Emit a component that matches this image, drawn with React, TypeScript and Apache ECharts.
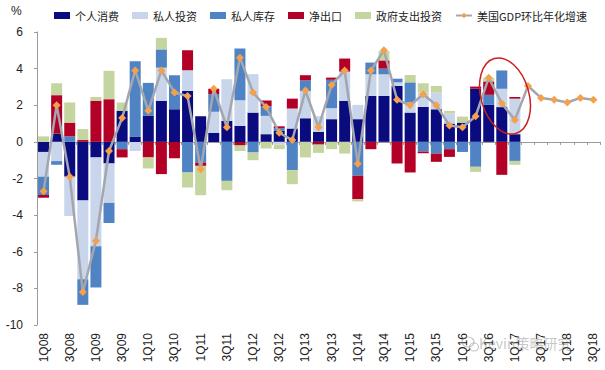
import React, { useEffect, useRef } from "react";
import * as echarts from "echarts";

const categories = [
  "1Q08","2Q08","3Q08","4Q08","1Q09","2Q09","3Q09","4Q09","1Q10","2Q10","3Q10","4Q10",
  "1Q11","2Q11","3Q11","4Q11","1Q12","2Q12","3Q12","4Q12","1Q13","2Q13","3Q13","4Q13",
  "1Q14","2Q14","3Q14","4Q14","1Q15","2Q15","3Q15","4Q15","1Q16","2Q16","3Q16","4Q16",
  "1Q17","2Q17","3Q17","4Q17","1Q18","2Q18","3Q18",
];

const pce = [-0.55, 0.45, -1.9, -3.2, -0.85, -1.18, 1.7, 0.3, 1.42, 2.24, 1.78, 2.78, 1.4, 0.5, 1.15, 0.87, 1.6, 0.42, 0.6, 0.73, 1.29, 0.55, 1.24, 2.24, 1.24, 2.51, 2.51, 3.05, 1.6, 1.91, 1.78, 1.0, 1.05, 2.91, 2.02, 1.9, 0.42];
const privInv = [-1.35, -1.05, -2.15, -4.3, -4.85, -2.15, 0, -0.5, 0, 1.81, 0, 1.13, 0, 1.15, 2.27, 1.4, 2.1, 1.0, -0.15, 1.09, 1.49, 0.85, 0.6, 1.6, 0.78, 1.18, 1.18, 0.2, 0.55, 0.78, 0.91, 0.55, 0, 0, 0, 1.0, 1.94];
const inventory = [-1.0, -0.2, 0.3, -1.4, -2.25, -1.1, -0.4, 4.1, 1.8, 1.0, 1.86, -1.67, -1.13, 0.95, -2.13, 2.83, -0.58, 0.54, 0.15, -1.55, 0.58, 0, 1.55, 0, -1.85, 0.64, 0.31, 0.2, 1.1, -0.53, -0.64, -0.4, -0.55, -1.36, 0.55, 1.0, -1.04];
const netExports = [-0.15, 2.1, 0.75, 0.1, 2.25, 2.33, -0.45, 0, -0.85, -1.76, -0.9, 1.09, -0.18, 0.3, 0, -0.2, 0, 0.3, 0.1, 0.54, 0.28, -0.15, 0.12, 0.71, -1.28, -0.4, 0.45, -1.18, -1.67, -0.09, -0.45, -0.42, 0, 0.11, 0.73, -1.8, 0.09];
const government = [0.3, 0.65, 1.1, 0.6, 0.2, 1.55, 0.45, 0, -0.6, 0.63, 0, -0.82, -1.6, 0, -0.51, -0.3, -0.42, -0.36, -0.25, -0.76, -0.85, -0.45, -0.4, -0.64, -0.12, 0, 0.51, 0, 0.4, 0.51, 0.36, 0.14, 0.33, -0.28, 0.2, 0, -0.21];
const gdp = [-2.7, 2.0, -1.9, -8.2, -5.4, -0.5, 1.3, 3.9, 1.7, 3.9, 2.7, 2.5, -1.5, 2.9, 0.8, 4.6, 2.7, 1.9, 0.5, 0.1, 2.8, 0.8, 3.1, 3.9, -1.2, 3.9, 5.0, 2.3, 2.0, 2.6, 2.0, 0.9, 0.8, 1.4, 3.5, 2.1, 1.2, 3.05, 2.4, 2.3, 2.15, 2.4, 2.3];

const barNames = ["个人消费", "私人投资", "私人库存", "净出口", "政府支出投资"];
const barColors = ["#0b0b80", "#c9d5ea", "#5083c4", "#b30026", "#c4d59f"];
const barData = [pce, privInv, inventory, netExports, government];
const lineName = "美国GDP环比年化增速";

export default function App() {
  const ref = useRef<HTMLDivElement>(null);
  useEffect(() => {
    document.body.style.margin = "0";
    const chart = echarts.init(ref.current!, undefined, { renderer: "svg" });
    const latin = "'Liberation Sans', Arial, sans-serif";
    const cjk = "'Noto Sans CJK SC', 'Liberation Sans', sans-serif";
    const wm = "rgba(150,150,150,0.55)";
    chart.setOption({
      animation: false,
      backgroundColor: "#ffffff",
      grid: { left: 37, right: 5, top: 32, bottom: 45 },
      legend: {
        left: 49,
        top: 5,
        itemWidth: 16,
        itemHeight: 7,
        itemGap: 13,
        textStyle: { fontSize: 11, fontFamily: cjk, color: "#222" },
        data: [...barNames.map((n) => ({ name: n, icon: "rect" })), { name: lineName }],
      },
      xAxis: [
        {
          type: "category",
          data: categories,
          position: "bottom",
          axisLine: { show: false, onZero: false },
          axisTick: { show: false },
          axisLabel: {
            interval: 1,
            rotate: 90,
            margin: 8,
            fontSize: 12,
            fontFamily: latin,
            color: "#222",
          },
        },
        {
          type: "category",
          data: categories,
          position: "bottom",
          axisLine: { show: true, onZero: true, onZeroAxisIndex: 0, lineStyle: { color: "#9a9a9a", width: 1 } },
          axisTick: { show: true, interval: 0, length: 3, lineStyle: { color: "#9a9a9a" } },
          axisLabel: { show: false },
        },
      ],
      yAxis: {
        type: "value",
        min: -10,
        max: 6,
        interval: 2,
        splitLine: { show: false },
        axisLine: { show: true, lineStyle: { color: "#9a9a9a" } },
        axisTick: { show: true, length: 3, lineStyle: { color: "#9a9a9a" } },
        axisLabel: { fontSize: 12, fontFamily: latin, color: "#222", margin: 14 },
      },
      series: [
        ...barNames.map((n, k) => ({
          name: n,
          type: "bar",
          stack: "gdp",
          xAxisIndex: 0,
          barCategoryGap: "16%",
          itemStyle: { color: barColors[k] },
          data: barData[k],
        })),
        {
          name: lineName,
          type: "line",
          xAxisIndex: 0,
          z: 5,
          symbol: "diamond",
          symbolSize: 8,
          lineStyle: { color: "#a3a6ae", width: 2.5 },
          itemStyle: { color: "#f5a04a" },
          data: gdp,
        },
      ],
      graphic: [
        {
          type: "text",
          left: 11,
          top: 5,
          style: { text: "%", fontSize: 12, fontFamily: latin, fill: "#222" },
        },
        {
          type: "ellipse",
          x: 505,
          y: 96,
          rotation: 0.28,
          shape: { cx: 0, cy: 0, rx: 24, ry: 39 },
          style: { fill: "none", stroke: "#cc1f1f", lineWidth: 1.5 },
          z: 10,
        },
        {
          type: "ellipse",
          shape: { cx: 468, cy: 342, rx: 6, ry: 5 },
          style: { fill: "none", stroke: wm, lineWidth: 1.2 },
          z: 10,
        },
        {
          type: "ellipse",
          shape: { cx: 474, cy: 347, rx: 4.5, ry: 4 },
          style: { fill: "none", stroke: wm, lineWidth: 1.2 },
          z: 10,
        },
        {
          type: "text",
          left: 479,
          top: 336,
          style: {
            text: "Kevin策略研究",
            fontSize: 14,
            fontFamily: cjk,
            fill: wm,
          },
          z: 10,
        },
      ],
    });
    return () => chart.dispose();
  }, []);
  return <div ref={ref} style={{ width: 605, height: 370 }} />;
}
